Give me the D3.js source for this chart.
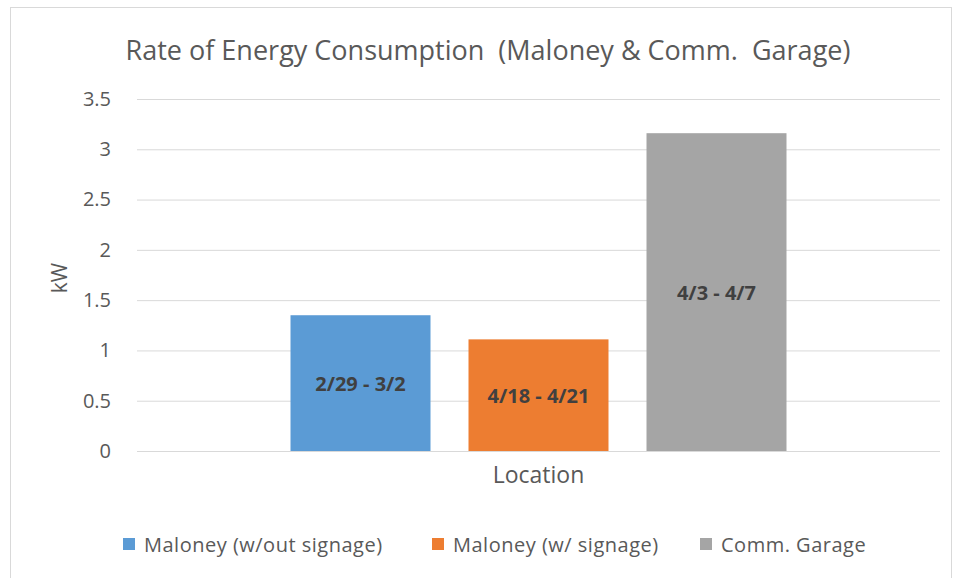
<!DOCTYPE html>
<html>
<head>
<meta charset="utf-8">
<script src="https://cdn.jsdelivr.net/npm/d3@7"></script>
<style>
    body { margin: 0; background: #fff; }
    text { font-family: "Open Sans", "Noto Sans", sans-serif; fill: #595959; white-space: pre; }
</style>
</head>
<body>
<div id="chart"></div>
<script>
// chart values
const categories = ["Location"];
const series = ["Maloney (w/out signage)", "Maloney (w/ signage)", "Comm. Garage"];
const values = [1.35, 1.11, 3.16];
const bar_labels = ["2/29 - 3/2", "4/18 - 4/21", "4/3 - 4/7"];
const colors = ["#5b9bd5", "#ed7d31", "#a5a5a5"];
const y_ticks = [0, 0.5, 1, 1.5, 2, 2.5, 3, 3.5];

const svg_settings = { width: 954, height: 578 };
const plot = { left: 137, right: 940, top: 99, bottom: 451 };

const svg = d3
    .select("#chart")
    .append("svg")
    .attr("width", svg_settings.width)
    .attr("height", svg_settings.height);

// outer frame of the chart
svg.append("rect")
    .attr("x", 10.5)
    .attr("y", 7.5)
    .attr("width", 941)
    .attr("height", 590)
    .attr("fill", "#fff")
    .attr("stroke", "#d9d9d9");

const y = d3.scaleLinear().domain([0, 3.5]).range([plot.bottom, plot.top]);

const x0 = d3
    .scaleBand()
    .domain(categories)
    .range([plot.left, plot.right])
    .paddingInner(0)
    .paddingOuter(0.3095);

const x1 = d3
    .scaleBand()
    .domain(series)
    .range([0, x0.bandwidth()])
    .paddingInner(0.2135)
    .paddingOuter(0);

// gridlines + tick labels
const y_axis = d3
    .axisLeft(y)
    .tickValues(y_ticks)
    .tickSize(-(plot.right - plot.left))
    .tickPadding(26)
    .tickFormat((d) => d3.format("")(d));

const y_g = svg
    .append("g")
    .attr("transform", `translate(${plot.left},0)`)
    .call(y_axis);
y_g.select(".domain").remove();
y_g.selectAll(".tick line").attr("stroke", "#d9d9d9");
y_g.selectAll(".tick text")
    .attr("fill", "#595959")
    .style("font-size", "20px");

// bars
const bars = svg
    .append("g")
    .selectAll("g")
    .data(series)
    .join("g");

bars.append("rect")
    .attr("x", (d) => x0("Location") + x1(d))
    .attr("y", (d, i) => y(values[i]))
    .attr("width", x1.bandwidth())
    .attr("height", (d, i) => y(0) - y(values[i]))
    .attr("fill", (d, i) => colors[i]);

bars.append("text")
    .attr("x", (d) => x0("Location") + x1(d) + x1.bandwidth() / 2)
    .attr("y", (d, i) => (y(values[i]) + y(0)) / 2 + 8)
    .attr("text-anchor", "middle")
    .style("font-size", "20px")
    .style("font-weight", "bold")
    .style("fill", "#404040")
    .text((d, i) => bar_labels[i]);

// titles
svg.append("text")
    .attr("x", 488)
    .attr("y", 60)
    .attr("text-anchor", "middle")
    .style("font-size", "27px")
    .text("Rate of Energy Consumption  (Maloney & Comm.  Garage)");

svg.append("text")
    .attr("transform", "translate(67,278) rotate(-90)")
    .attr("text-anchor", "middle")
    .style("font-size", "21px")
    .text("kW");

svg.append("text")
    .attr("x", x0("Location") + x0.bandwidth() / 2)
    .attr("y", 483)
    .attr("text-anchor", "middle")
    .style("font-size", "23px")
    .text("Location");

// legend
const legend_x = [123, 432, 700];
const legend = svg
    .append("g")
    .selectAll("g")
    .data(series)
    .join("g")
    .attr("transform", (d, i) => `translate(${legend_x[i]},538)`);

legend.append("rect")
    .attr("width", 12)
    .attr("height", 12)
    .attr("fill", (d, i) => colors[i]);

legend.append("text")
    .attr("x", 21)
    .attr("y", 14)
    .style("font-size", "20px")
    .style("letter-spacing", "0.5px")
    .text((d) => d);
</script>
</body>
</html>
